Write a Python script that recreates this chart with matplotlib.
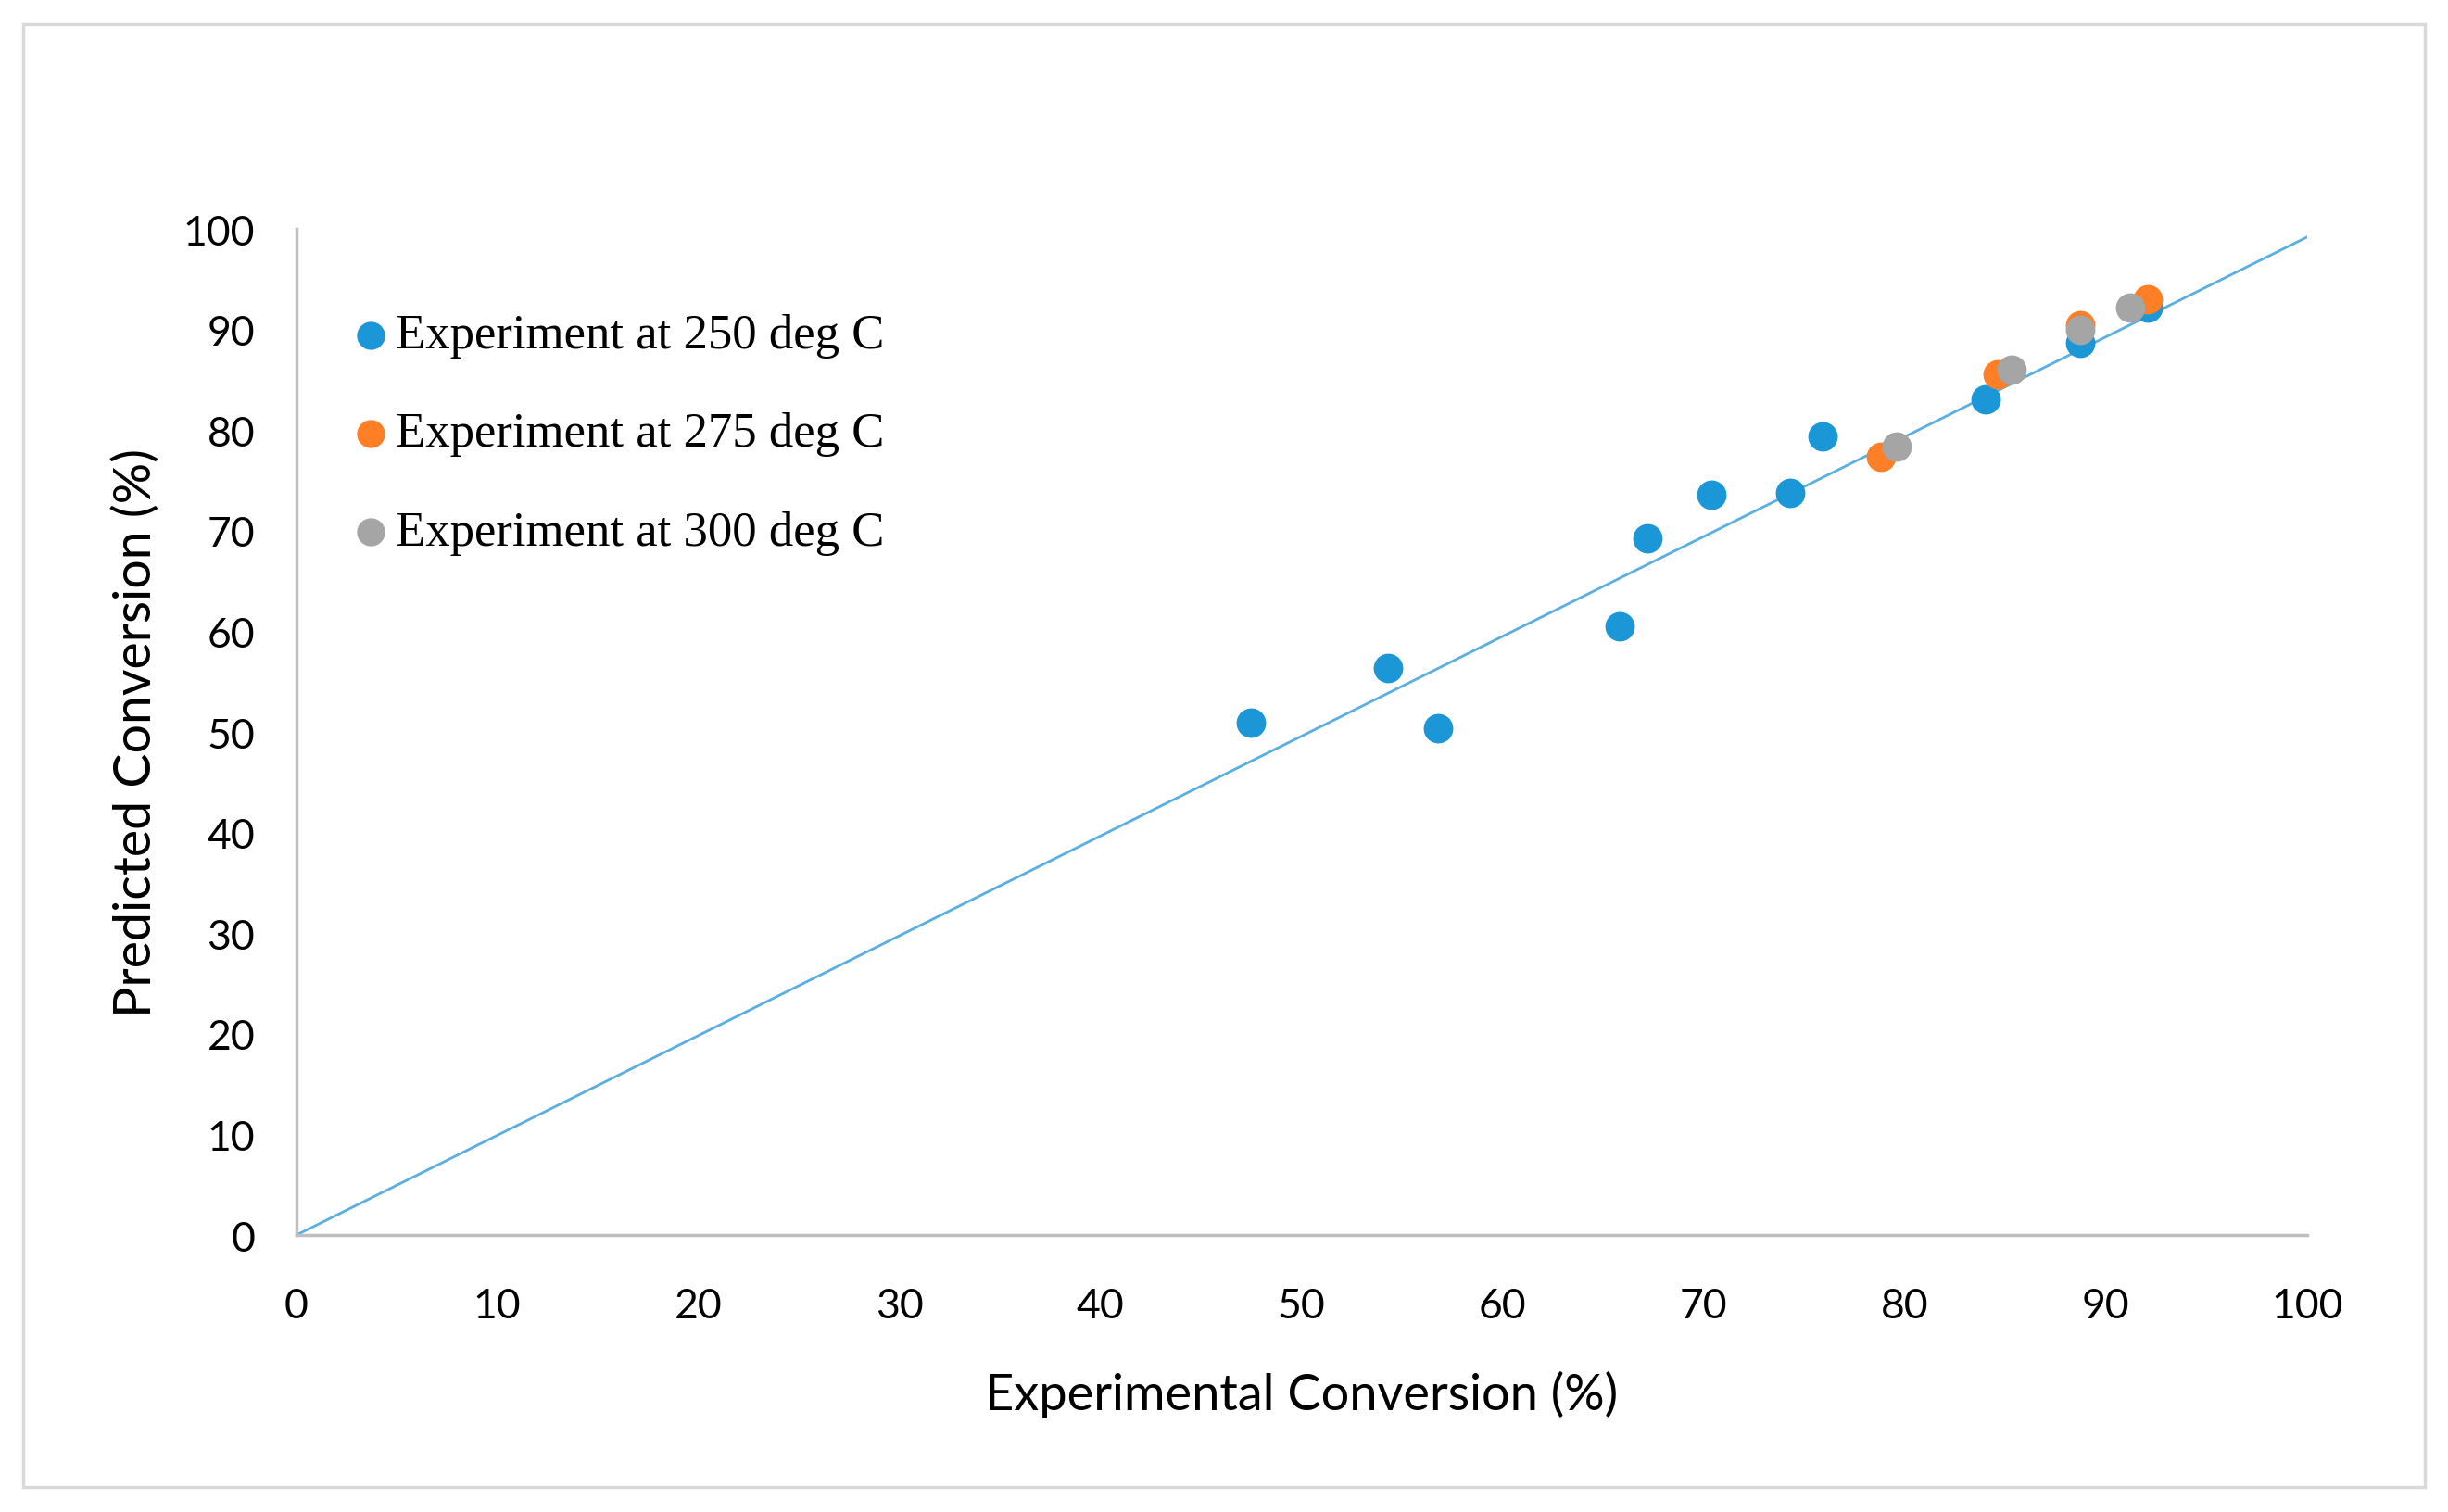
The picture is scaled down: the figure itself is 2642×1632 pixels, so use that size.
import numpy as np
import matplotlib.pyplot as plt
from matplotlib.patches import Rectangle

# datos
exp_250 = [47.5, 54.3, 56.8, 65.8, 67.2, 70.4, 74.3, 75.9, 84.0, 88.7, 92.1]
pred_250 = [50.9, 56.4, 50.4, 60.5, 69.3, 73.6, 73.8, 79.4, 83.1, 88.7, 92.2]
exp_275 = [78.8, 84.6, 88.7, 92.1]
pred_275 = [77.4, 85.6, 90.4, 93.0]
exp_300 = [79.6, 85.3, 88.7, 91.2]
pred_300 = [78.4, 86.0, 90.0, 92.2]
fit_x = [0, 100]
fit_y = [0, 99.2]
ticks = np.arange(0, 101, 10)

fig = plt.figure(figsize=(26.42, 16.33), dpi=100)
fig.patches.append(Rectangle((25 / 2642, 27 / 1633), 2592 / 2642, 1579 / 1633,
                             transform=fig.transFigure, fill=False,
                             edgecolor='#d9d9d9', linewidth=2.5))
ax = fig.add_axes([0.121, 0.183, 0.8214, 0.665])

ax.plot(fit_x, fit_y, color='#5aaee0', linewidth=2, zorder=1)
ax.scatter(exp_250, pred_250, s=480, color='#1b96d6', label='Experiment at 250 deg C', zorder=2)
ax.scatter(exp_275, pred_275, s=480, color='#ff7f27', label='Experiment at 275 deg C', zorder=3)
ax.scatter(exp_300, pred_300, s=480, color='#a5a5a5', label='Experiment at 300 deg C', zorder=4)

ax.set_xlim(0, 100)
ax.set_ylim(0, 100)
ax.set_xticks(ticks)
ax.set_yticks(ticks)
for s in ['top', 'right']:
    ax.spines[s].set_visible(False)
for s in ['left', 'bottom']:
    ax.spines[s].set_color('#bfbfbf')
    ax.spines[s].set_linewidth(2.5)
ax.tick_params(length=0, labelsize=32)
ax.tick_params(axis='x', pad=40)
ax.tick_params(axis='y', pad=32)
for lab in ax.get_xticklabels() + ax.get_yticklabels():
    lab.set_family('Lato')

ax.set_xlabel('Experimental Conversion (%)', fontsize=39, family='Lato', labelpad=35)
ax.set_ylabel('Predicted Conversion (%)', fontsize=40, family='Lato', labelpad=18)

leg = ax.legend(loc='upper left', bbox_to_anchor=(0.025, 0.916), frameon=False,
                prop={'family': 'Liberation Serif', 'size': 38},
                borderpad=0, borderaxespad=0, handlelength=1.0,
                handletextpad=0.0, labelspacing=1.1, markerscale=0.95)

plt.savefig('out.png', dpi=100)
